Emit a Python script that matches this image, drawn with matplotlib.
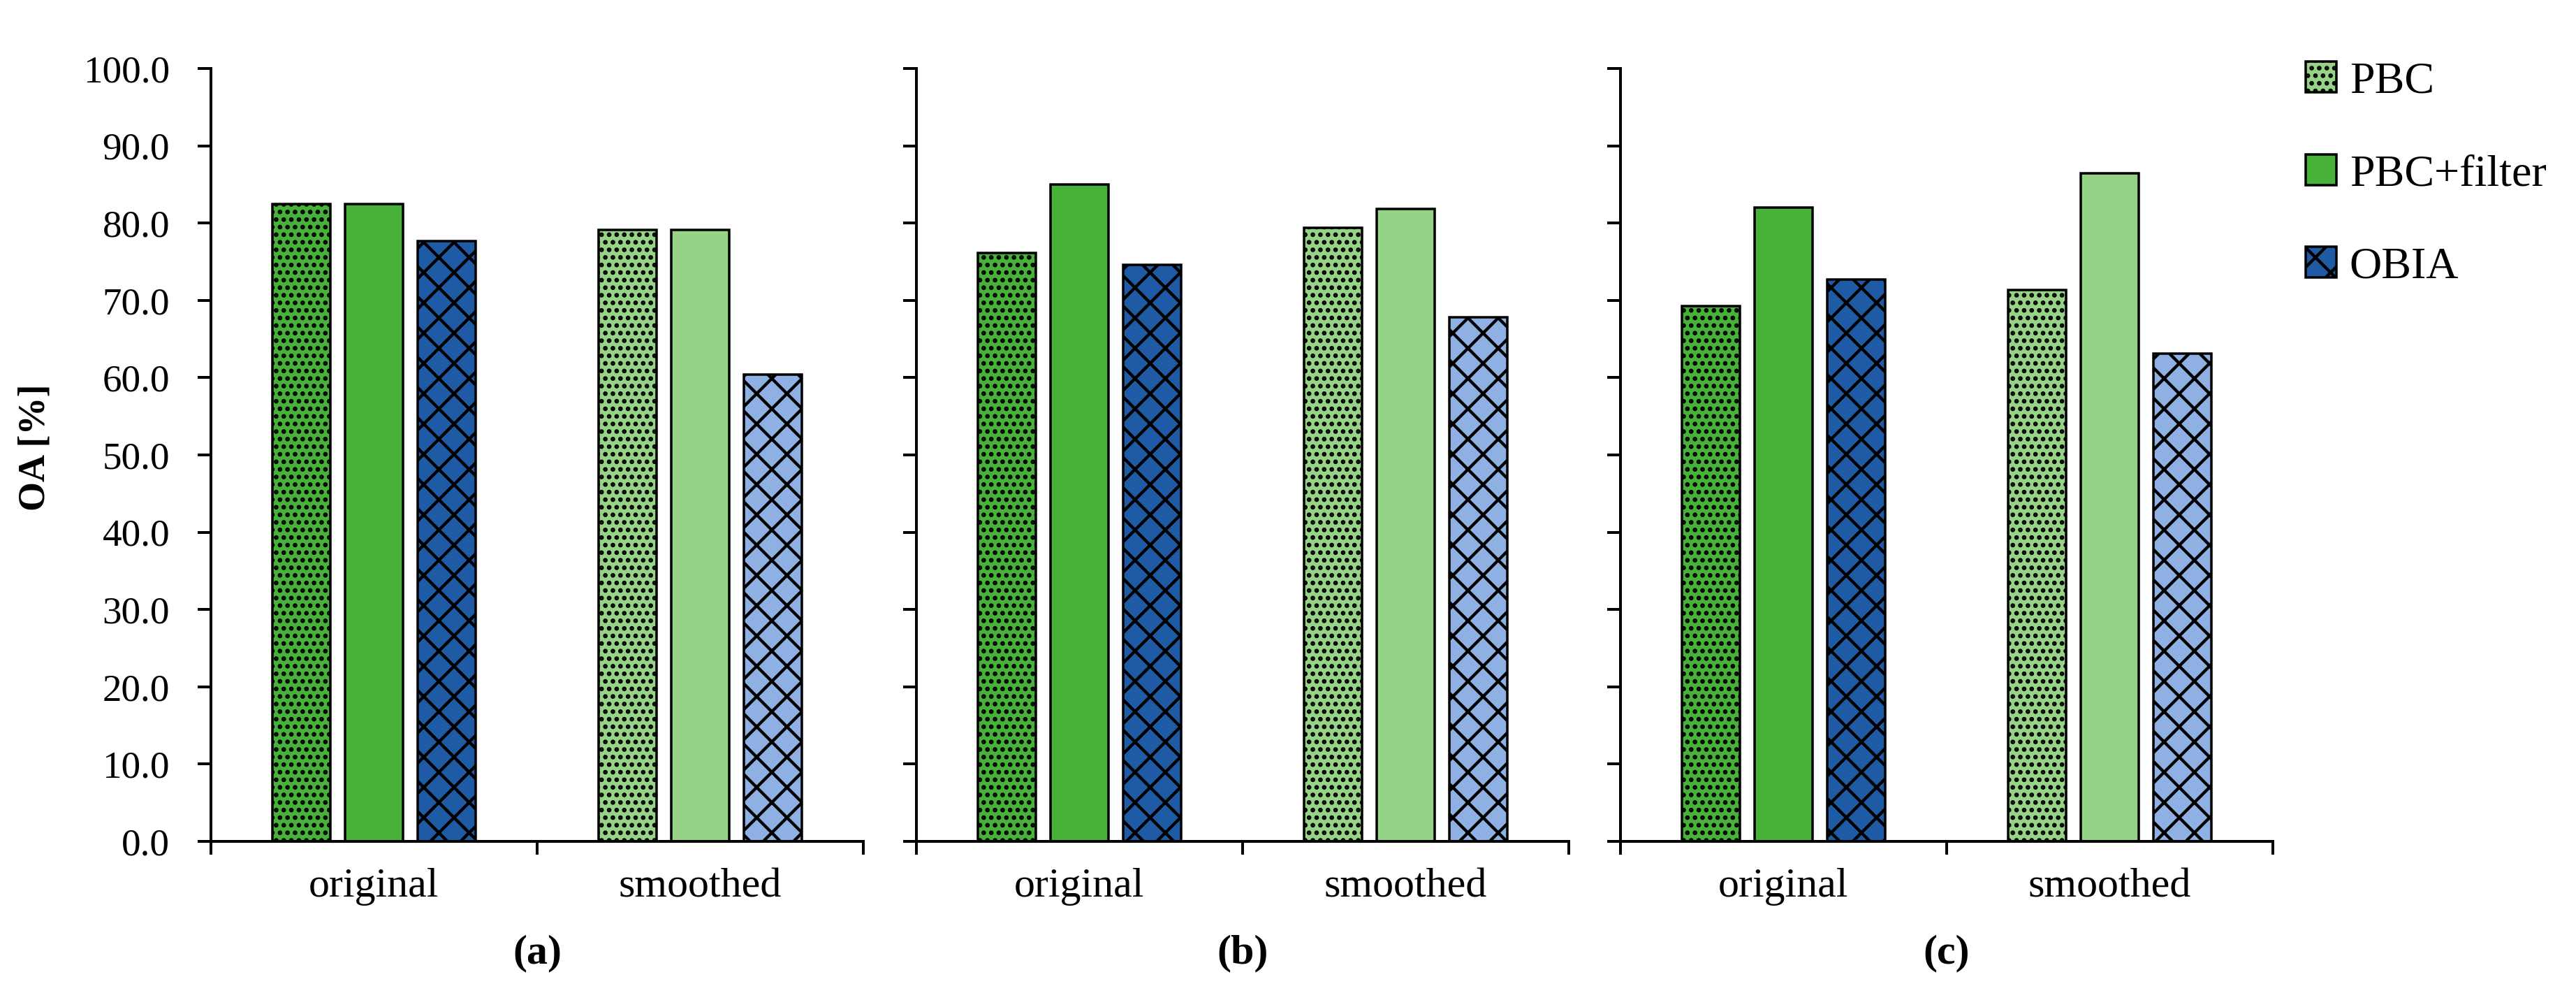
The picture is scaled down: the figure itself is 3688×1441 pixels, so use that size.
import matplotlib
matplotlib.use("Agg")
from matplotlib import pyplot as plt
from matplotlib.patches import Patch
from matplotlib.ticker import FormatStrFormatter
import numpy as np

# data
categories = ["original", "smoothed"]
panel_labels = ["(a)", "(b)", "(c)"]
series_names = ["PBC", "PBC+filter", "OBIA"]
pbc_vals = [[82.5, 79.1], [76.1, 79.4], [69.3, 71.3]]
filter_vals = [[82.5, 79.1], [85.0, 81.8], [82.0, 86.4]]
obia_vals = [[77.7, 60.4], [74.6, 67.8], [72.7, 63.1]]

DPI = 130
W, H = 3688, 1441

dark_green = "#47b13a"
light_green = "#96d386"
dark_blue = "#1f5aa5"
light_blue = "#8eb0e3"

# colours per category (original, smoothed) for each series
pbc_cols = [dark_green, light_green]
filter_cols = [dark_green, light_green]
obia_cols = [dark_blue, light_blue]

plt.rcParams["font.family"] = ["Liberation Serif", "DejaVu Serif"]
plt.rcParams["hatch.linewidth"] = 2.4

px = lambda p: p * 72.0 / DPI  # pixels -> points

fig = plt.figure(figsize=(W / DPI, H / DPI), dpi=DPI)

ax_left = [302, 1312, 2320]
ax_w = 934
ax_top, ax_bot = 98, 1204

bar_w = 0.178
step = 0.223
x = np.arange(len(categories))

for i in range(3):
  ax = fig.add_axes([ax_left[i] / W, 1 - ax_bot / H, ax_w / W, (ax_bot - ax_top) / H])

  series = [(pbc_vals[i], pbc_cols, ".."), (filter_vals[i], filter_cols, ""), (obia_vals[i], obia_cols, "x")]
  for k, (vals, cols, hatch) in enumerate(series):
    ax.bar(x + (k - 1) * step, vals, width=bar_w, color=cols, edgecolor="black",
           linewidth=px(3.5), hatch=hatch, zorder=2)

  ax.set_xlim(-0.5, 1.5)
  ax.set_ylim(0, 100)
  ax.set_yticks(np.arange(0, 101, 10))
  ax.yaxis.set_major_formatter(FormatStrFormatter("%.1f"))

  ax.set_xticks([-0.5, 0.5, 1.5])
  ax.set_xticklabels([])
  ax.set_xticks(x, minor=True)
  ax.set_xticklabels(categories, minor=True, fontsize=px(60))
  ax.tick_params(axis="x", which="minor", length=0, pad=px(38))
  ax.tick_params(axis="both", which="major", direction="out", length=px(19),
                 width=px(4), labelsize=px(55), pad=px(40))

  for s in ["top", "right"]:
    ax.spines[s].set_visible(False)
  for s in ["left", "bottom"]:
    ax.spines[s].set_linewidth(px(4))

  if i == 0:
    ax.set_ylabel("OA [%]", fontsize=px(54), fontweight="bold")
    ax.yaxis.set_label_coords(-0.243, 0.51)
  else:
    ax.set_yticklabels([])

  ax.text(0.5, -0.145, panel_labels[i], transform=ax.transAxes, ha="center", va="center",
          fontsize=px(60), fontweight="bold")

handles = [
  Patch(facecolor=light_green, edgecolor="black", hatch="..", linewidth=px(3.5)),
  Patch(facecolor=dark_green, edgecolor="black", linewidth=px(3.5)),
  Patch(facecolor=dark_blue, edgecolor="black", hatch="x", linewidth=px(3.5)),
]
fig.legend(handles, series_names, loc="upper left", bbox_to_anchor=(3301 / W, 1 - 88 / H),
           frameon=False, fontsize=px(64), handlelength=0.68, handleheight=0.68,
           handletextpad=0.3, labelspacing=1.16, borderpad=0, borderaxespad=0)

fig.savefig("out.png", dpi=DPI)
